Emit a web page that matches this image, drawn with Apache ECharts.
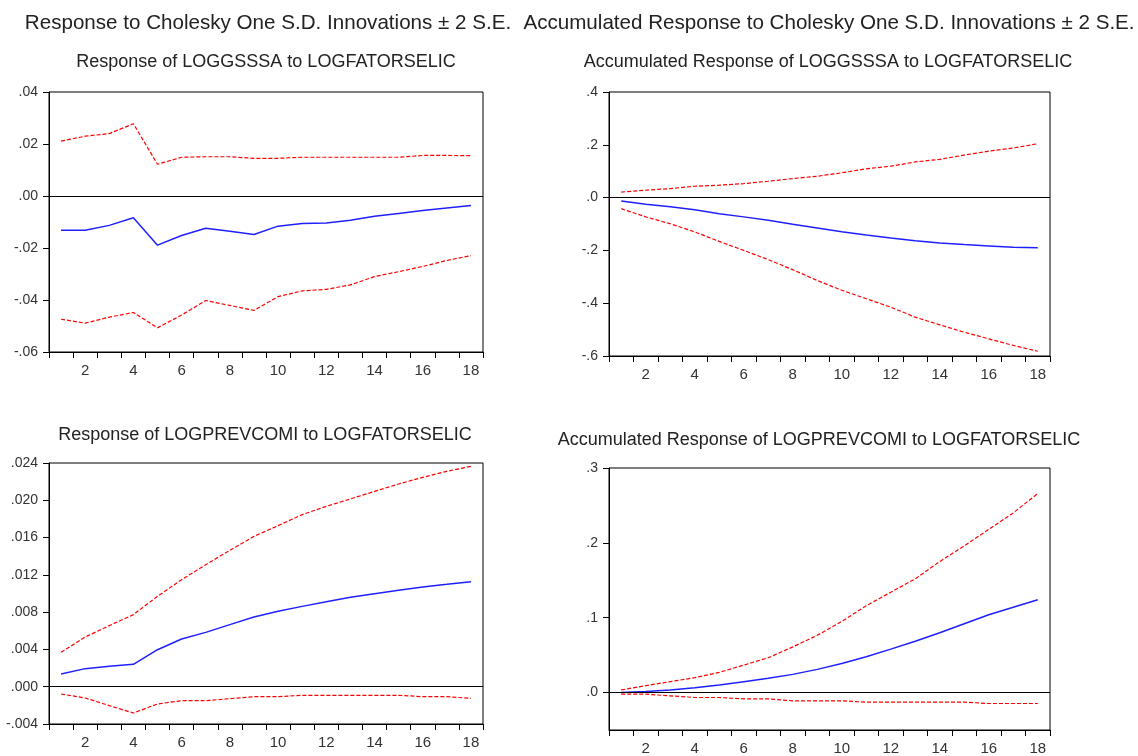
<!DOCTYPE html>
<html><head><meta charset="utf-8">
<script src="https://cdn.jsdelivr.net/npm/echarts@6/dist/echarts.min.js"></script>
<style>html,body{margin:0;padding:0;background:#fff}#c{width:1138px;height:756px}</style>
</head><body><div id="c"></div>
<script>
// ---- data ----
const periods = ['1','2','3','4','5','6','7','8','9','10','11','12','13','14','15','16','17','18'];

const headerLeft = 'Response to Cholesky One S.D. Innovations \u00B1 2 S.E.';
const headerRight = 'Accumulated Response to Cholesky One S.D. Innovations \u00B1 2 S.E.';
const panelTitles = [
  'Response of LOGGSSSA to LOGFATORSELIC',
  'Accumulated Response of LOGGSSSA to LOGFATORSELIC',
  'Response of LOGPREVCOMI to LOGFATORSELIC',
  'Accumulated Response of LOGPREVCOMI to LOGFATORSELIC'
];

// Panel 1: Response of LOGGSSSA
const p1Resp  = [-0.0132,-0.0132,-0.0113,-0.0084,-0.0189,-0.0152,-0.0124,-0.0136,-0.0148,-0.0116,-0.0106,-0.0104,-0.0093,-0.0078,-0.0067,-0.0056,-0.0046,-0.0037];
const p1Upper = [0.0211,0.0230,0.0240,0.0278,0.0122,0.0149,0.0151,0.0151,0.0145,0.0145,0.0149,0.0149,0.0149,0.0149,0.0149,0.0156,0.0156,0.0155];
const p1Lower = [-0.0474,-0.0489,-0.0466,-0.0448,-0.0507,-0.0458,-0.0402,-0.0421,-0.0440,-0.0387,-0.0365,-0.0359,-0.0342,-0.0310,-0.0291,-0.0271,-0.0248,-0.0229];

// Panel 2: Accumulated Response of LOGGSSSA
const p2Resp  = [-0.013,-0.025,-0.035,-0.046,-0.061,-0.073,-0.086,-0.101,-0.115,-0.129,-0.142,-0.153,-0.163,-0.172,-0.178,-0.183,-0.188,-0.190];
const p2Upper = [0.021,0.028,0.034,0.043,0.047,0.053,0.062,0.072,0.081,0.094,0.109,0.119,0.135,0.145,0.161,0.176,0.188,0.204];
const p2Lower = [-0.042,-0.073,-0.099,-0.130,-0.166,-0.200,-0.235,-0.273,-0.314,-0.351,-0.383,-0.415,-0.453,-0.482,-0.510,-0.535,-0.560,-0.582];

// Panel 3: Response of LOGPREVCOMI
const p3Resp  = [0.00136,0.00194,0.00219,0.00240,0.00397,0.00512,0.00583,0.00666,0.00748,0.00809,0.00862,0.00912,0.00959,0.00998,0.01034,0.01070,0.01098,0.01127];
const p3Upper = [0.00369,0.00533,0.00655,0.00773,0.00970,0.01148,0.01309,0.01463,0.01613,0.01728,0.01846,0.01935,0.02014,0.02096,0.02175,0.02246,0.02311,0.02364];
const p3Lower = [-0.00078,-0.00121,-0.00203,-0.00282,-0.00185,-0.00150,-0.00150,-0.00128,-0.00107,-0.00107,-0.00092,-0.00092,-0.00092,-0.00092,-0.00092,-0.00107,-0.00107,-0.00125];

// Panel 4: Accumulated Response of LOGPREVCOMI
const p4Resp  = [0.0000,0.0013,0.0035,0.0066,0.0102,0.0146,0.0190,0.0243,0.0310,0.0389,0.0478,0.0580,0.0686,0.0800,0.0920,0.1040,0.1140,0.1240];
const p4Upper = [0.0035,0.0093,0.0146,0.0199,0.0270,0.0367,0.0465,0.0610,0.0765,0.0950,0.1160,0.1340,0.1520,0.1750,0.1960,0.2180,0.2400,0.2660];
const p4Lower = [-0.0022,-0.0022,-0.0044,-0.0066,-0.0066,-0.0084,-0.0084,-0.0110,-0.0110,-0.0110,-0.0128,-0.0128,-0.0128,-0.0128,-0.0128,-0.0146,-0.0146,-0.0146];

// y-axis scales and tick values
const yScale1 = {min: -0.06, max: 0.04, interval: 0.02, dec: 2};
const yScale2 = {min: -0.6, max: 0.4, interval: 0.2, dec: 1};
const yScale3 = {min: -0.004, max: 0.024, interval: 0.004, dec: 3};
const yScale4 = {min: -0.05, max: 0.3, dec: 1};
const yTicks4 = [0, 0.1, 0.2, 0.3];

// ---- chart ----
const FONT = '"Liberation Sans", Arial, sans-serif';
function fmt(v, dec) {
  if (Math.abs(v) < 1e-12) v = 0;
  return v.toFixed(dec).replace(/^(-?)0\./, '$1.');
}

const grids = [
  {left: 49, top: 92, width: 434, height: 260},
  {left: 609, top: 92, width: 441, height: 264},
  {left: 49, top: 463, width: 434, height: 261},
  {left: 609, top: 468, width: 441, height: 265}
].map(g => Object.assign(g, {show: true, borderColor: '#000', borderWidth: 1, containLabel: false}));

const scales = [yScale1, yScale2, yScale3, yScale4];
const panels = [
  [p1Resp, p1Upper, p1Lower],
  [p2Resp, p2Upper, p2Lower],
  [p3Resp, p3Upper, p3Lower],
  [p4Resp, p4Upper, p4Lower]
];

const xAxes = grids.map((g, i) => ({
  type: 'category', gridIndex: i, data: periods, boundaryGap: true,
  axisLine: {onZero: false, lineStyle: {color: '#000', width: 1}},
  axisTick: {show: true, interval: 0, length: 6, lineStyle: {color: '#000'}},
  axisLabel: {interval: (idx) => idx % 2 === 1, color: '#333', fontSize: 15, fontFamily: FONT, margin: 11},
  splitLine: {show: false}
}));

const yAxes = scales.map((s, i) => {
  const ax = {
    type: 'value', gridIndex: i, min: s.min, max: s.max,
    axisLine: {show: true, onZero: false, lineStyle: {color: '#000', width: 1}},
    axisTick: {show: true, length: 6, lineStyle: {color: '#000'}},
    axisLabel: {color: '#333', fontSize: 14, fontFamily: FONT, margin: 11, formatter: (v) => fmt(v, s.dec)},
    splitLine: {show: false}
  };
  if (s.interval !== undefined) {
    ax.interval = s.interval;
  } else {
    ax.axisTick.customValues = yTicks4;
    ax.axisLabel.customValues = yTicks4;
  }
  return ax;
});

const series = [];
panels.forEach((p, i) => {
  series.push({
    type: 'line', xAxisIndex: i, yAxisIndex: i, data: p[0], symbol: 'none',
    lineStyle: {color: '#2020ff', width: 1.5, type: 'solid'}, z: 3,
    markLine: {silent: true, symbol: ['none', 'none'], label: {show: false},
      lineStyle: {color: '#000', width: 1, type: 'solid'}, data: [{yAxis: 0}], animation: false}
  });
  series.push({
    type: 'line', xAxisIndex: i, yAxisIndex: i, data: p[1], symbol: 'none',
    lineStyle: {color: '#ff0000', width: 1.2, type: [4, 2]}, z: 2
  });
  series.push({
    type: 'line', xAxisIndex: i, yAxisIndex: i, data: p[2], symbol: 'none',
    lineStyle: {color: '#ff0000', width: 1.2, type: [4, 2]}, z: 2
  });
});

function t(text, left, top, size) {
  return {text, left, top, textAlign: 'center', padding: 0,
    textStyle: {fontSize: size, fontWeight: 'normal', fontFamily: FONT, color: '#222'}};
}

const option = {
  animation: false,
  backgroundColor: '#fff',
  title: [
    t(headerLeft, 268, 13, 20.6),
    t(headerRight, 829, 13, 20.6),
    t(panelTitles[0], 266, 53, 18),
    t(panelTitles[1], 828, 53, 18),
    t(panelTitles[2], 265, 426, 18),
    t(panelTitles[3], 819, 431, 18)
  ],
  grid: grids,
  xAxis: xAxes,
  yAxis: yAxes,
  series: series
};

const chart = echarts.init(document.getElementById('c'), null, {renderer: 'canvas'});
chart.setOption(option);
</script>
</body></html>
